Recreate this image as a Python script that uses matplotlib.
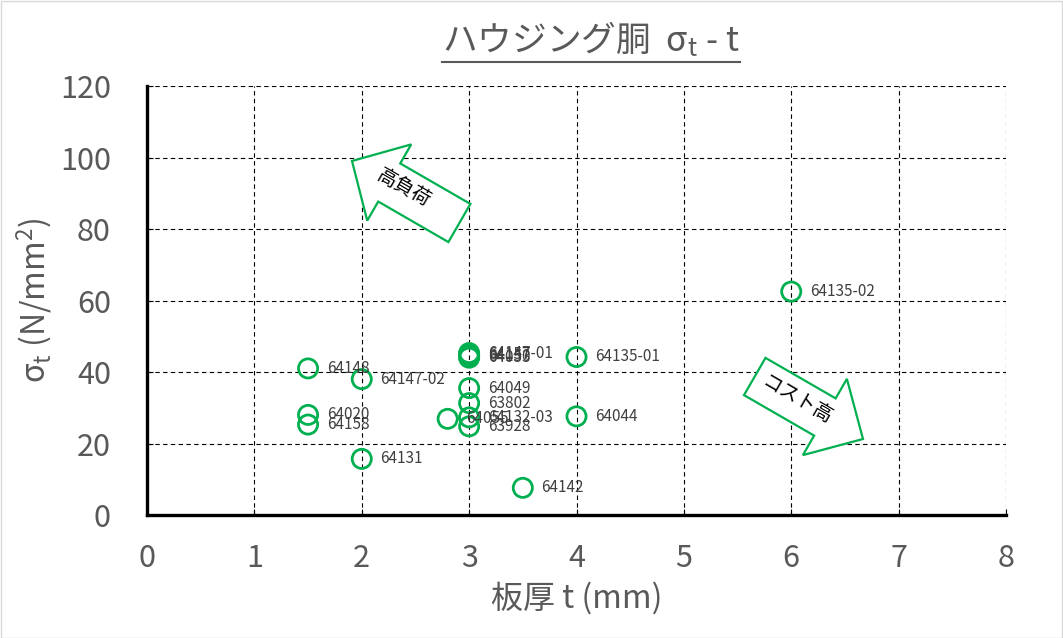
import numpy as np
import matplotlib
matplotlib.use('Agg')
import matplotlib.pyplot as plt
from matplotlib.patches import Polygon, Rectangle
from matplotlib.lines import Line2D

plt.rcParams['font.family'] = ['Noto Sans CJK JP', 'DejaVu Sans']
plt.rcParams['mathtext.fontset'] = 'custom'
plt.rcParams['mathtext.rm'] = 'Noto Sans CJK JP'
plt.rcParams['mathtext.default'] = 'regular'

# data: plate thickness t (mm), stress sigma_t (N/mm2)
names = ['64135-02', '64148', '64147-02', '64020', '64158', '64131', '64142',
         '64044', '64135-01', '64147-01', '64157', '64150', '64053',
         '64049', '63802', '64055', '64132-03', '63928']
thickness = [6, 1.5, 2, 1.5, 1.5, 2, 3.5,
             4, 4, 3, 3, 3, 3,
             3, 3, 2.8, 3, 3]
stress = [62.5, 41, 38, 28, 25.3, 15.7, 7.6,
          27.6, 44.2, 45.3, 44.8, 44.3, 44.0,
          35.5, 31.3, 26.9, 27.3, 24.8]

x_ticks = [0, 1, 2, 3, 4, 5, 6, 7, 8]
y_ticks = [0, 20, 40, 60, 80, 100, 120]

W, H = 1063, 638
green = '#00B050'
gray = '#595959'

fig = plt.figure(figsize=(W / 100, H / 100), dpi=100)
ax = fig.add_axes([147 / W, 1 - 515 / H, (1006 - 147) / W, (515 - 86) / H])

ax.scatter(thickness, stress, s=190, facecolors='none', edgecolors=green,
           linewidths=2.0, zorder=3, clip_on=False)
for n, xv, yv in zip(names, thickness, stress):
    ax.annotate(n, (xv, yv), xytext=(13.5, 0), textcoords='offset points',
                ha='left', va='center', fontsize=11, color='#404040', zorder=4)

ax.set_xlim(0, 8)
ax.set_ylim(0, 120)
ax.set_xticks(x_ticks)
ax.set_yticks(y_ticks)
ax.grid(True, color='black', linestyle=(0, (4, 3)), linewidth=0.8)
ax.set_axisbelow(True)
for s in ['top', 'right']:
    ax.spines[s].set_visible(False)
for s in ['left', 'bottom']:
    ax.spines[s].set_linewidth(2.4)
    ax.spines[s].set_color('black')
ax.tick_params(axis='both', direction='in', length=4, width=0.8, color='black',
               labelsize=22, labelcolor=gray)
ax.tick_params(axis='y', pad=26)
ax.tick_params(axis='x', pad=20)

ax.set_xlabel('板厚 t (mm)', fontsize=23, color=gray, labelpad=6)
ax.set_ylabel('σ$_\\mathregular{t}$ (N/mm$^\\mathregular{2}$)', fontsize=23, color=gray, labelpad=4)

# title with underline
title = fig.text(591 / W, 1 - 39 / H, 'ハウジング胴  σ$_\\mathregular{t}$ - t', ha='center', va='center',
                 fontsize=25, color=gray)
fig.canvas.draw()
bb = title.get_window_extent()
fig.add_artist(Line2D([bb.x0 / W, bb.x1 / W], [(H - 62) / H, (H - 62) / H],
                      color=gray, linewidth=1.5, transform=fig.transFigure))


def block_arrow(tip, angle, length, bw, hw, hl):
    pts = np.array([[0, -bw / 2], [length - hl, -bw / 2], [length - hl, -hw / 2], [length, 0],
                    [length - hl, hw / 2], [length - hl, bw / 2], [0, bw / 2]])
    a = np.deg2rad(angle)
    rot = np.array([[np.cos(a), -np.sin(a)], [np.sin(a), np.cos(a)]])
    pts = pts - [length, 0]
    pts = pts @ rot.T
    tx, ty = tip[0], H - tip[1]
    pts = pts + [tx, ty]
    pts[:, 0] /= W
    pts[:, 1] /= H
    return Polygon(pts, closed=True, facecolor='white', edgecolor=green,
                   linewidth=1.6, transform=fig.transFigure, zorder=5)


fig.add_artist(block_arrow((352, 161), 150, 124, 44, 88, 43))
fig.add_artist(block_arrow((863, 439), -30, 125, 43, 88, 44))
fig.text(404 / W, 1 - 188 / H, '高負荷', rotation=-30, ha='center', va='center',
         fontsize=14, color='black', zorder=6, rotation_mode='anchor')
fig.text(797 / W, 1 - 400 / H, 'コスト高', rotation=-30, ha='center', va='center',
         fontsize=14, color='black', zorder=6, rotation_mode='anchor')

fig.add_artist(Rectangle((0.5 / W, 0.5 / H), 1 - 1.5 / W, 1 - 1.5 / H, fill=False,
                         edgecolor='#D9D9D9', linewidth=1, transform=fig.transFigure))

fig.savefig('out.png', dpi=100)
